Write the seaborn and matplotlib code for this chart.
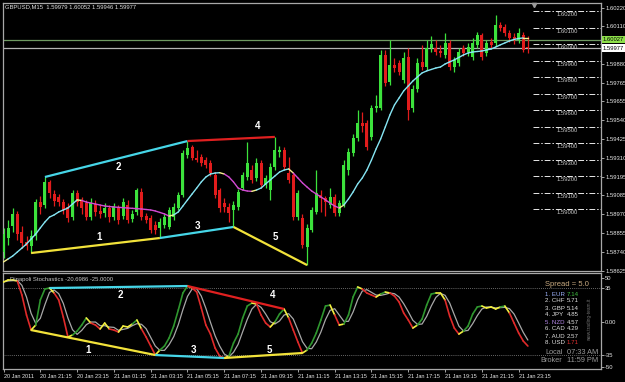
import numpy as np
import pandas as pd
import matplotlib
matplotlib.use("Agg")
import matplotlib.pyplot as plt
import matplotlib.transforms as mtransforms
from matplotlib.collections import LineCollection
import seaborn as sns

# ---------------- data (GBPUSD M15, 20 Jan 19:15 -> 21 Jan 23:45) ----------------
open_ = [1.58740, 1.58825, 1.58898, 1.58971, 1.58861, 1.58801, 1.58777, 1.58837, 1.59043, 1.59025,
         1.59165, 1.59092, 1.59074, 1.59043, 1.59013, 1.58952, 1.59098, 1.59049, 1.59037, 1.58952,
         1.59031, 1.58989, 1.58977, 1.59007, 1.58952, 1.59007, 1.58958, 1.59025, 1.58940, 1.58983,
         1.59104, 1.58958, 1.58946, 1.58904, 1.58886, 1.58904, 1.58892, 1.58952, 1.59007, 1.59086,
         1.59328, 1.59377, 1.59310, 1.59316, 1.59298, 1.59280, 1.59207, 1.59116, 1.59037, 1.59013,
         1.58995, 1.59013, 1.59128, 1.59195, 1.59237, 1.59189, 1.59280, 1.59146, 1.59116, 1.59256,
         1.59347, 1.59359, 1.59219, 1.59207, 1.58952, 1.58946, 1.58770, 1.58874, 1.58983, 1.59086,
         1.59068, 1.59025, 1.59074, 1.58977, 1.59025, 1.59237, 1.59341, 1.59432, 1.59523, 1.59523,
         1.59438, 1.59614, 1.59614, 1.59935, 1.59771, 1.59874, 1.59886, 1.59783, 1.59923, 1.59614,
         1.59729, 1.59893, 1.59862, 1.59977, 1.59977, 1.59959, 1.59935, 1.60008, 1.59862, 1.59886,
         1.59977, 1.59953, 1.59923, 1.59996, 1.60056, 1.59947, 1.60014, 1.60008, 1.60117, 1.60105,
         1.60068, 1.60044, 1.60026, 1.60056, 1.59979]
close = [1.58849, 1.58886, 1.58971, 1.58849, 1.58795, 1.58777, 1.58837, 1.59043, 1.59013, 1.59165,
         1.59098, 1.59049, 1.59043, 1.58995, 1.58946, 1.59098, 1.59043, 1.59007, 1.58952, 1.59037,
         1.58983, 1.58971, 1.59007, 1.58952, 1.59019, 1.58934, 1.59043, 1.58934, 1.58971, 1.59116,
         1.58952, 1.58934, 1.58874, 1.58874, 1.58922, 1.58952, 1.58995, 1.59013, 1.59086, 1.59341,
         1.59371, 1.59310, 1.59298, 1.59280, 1.59268, 1.59219, 1.59086, 1.59007, 1.59013, 1.58977,
         1.59025, 1.59104, 1.59207, 1.59280, 1.59177, 1.59280, 1.59146, 1.59189, 1.59256, 1.59359,
         1.59359, 1.59256, 1.59177, 1.58952, 1.59098, 1.58783, 1.58886, 1.58995, 1.59098, 1.59068,
         1.59043, 1.59074, 1.58977, 1.59037, 1.59268, 1.59347, 1.59432, 1.59523, 1.59504, 1.59377,
         1.59614, 1.59626, 1.59935, 1.59765, 1.59874, 1.59856, 1.59832, 1.59917, 1.59601, 1.59729,
         1.59886, 1.59862, 1.59977, 1.60002, 1.59953, 1.59947, 1.60008, 1.59862, 1.59905, 1.59953,
         1.59947, 1.59983, 1.60008, 1.60056, 1.59923, 1.60008, 1.59996, 1.60117, 1.60099, 1.60068,
         1.60038, 1.60032, 1.60068, 1.59965, 1.59977]
high = [1.58886, 1.58934, 1.59007, 1.58989, 1.58898, 1.58837, 1.58874, 1.59062, 1.59080, 1.59195,
        1.59177, 1.59116, 1.59092, 1.59062, 1.59037, 1.59116, 1.59116, 1.59074, 1.59056, 1.59068,
        1.59056, 1.59025, 1.59037, 1.59025, 1.59037, 1.59025, 1.59068, 1.59056, 1.58995, 1.59128,
        1.59128, 1.58977, 1.58965, 1.58928, 1.58946, 1.58971, 1.59013, 1.59037, 1.59104, 1.59359,
        1.59413, 1.59389, 1.59359, 1.59335, 1.59316, 1.59298, 1.59225, 1.59128, 1.59068, 1.59037,
        1.59049, 1.59122, 1.59225, 1.59407, 1.59268, 1.59310, 1.59298, 1.59207, 1.59280, 1.59438,
        1.59383, 1.59377, 1.59316, 1.59225, 1.59116, 1.58971, 1.58910, 1.59013, 1.59237, 1.59116,
        1.59080, 1.59128, 1.59092, 1.59056, 1.59298, 1.59371, 1.59456, 1.59601, 1.59589, 1.59541,
        1.59632, 1.59692, 1.59965, 1.59965, 1.60026, 1.59917, 1.59905, 1.59953, 1.59977, 1.59753,
        1.59917, 1.59996, 1.60026, 1.60050, 1.60026, 1.59996, 1.60068, 1.60026, 1.59923, 1.59977,
        1.59996, 1.60008, 1.60038, 1.60074, 1.60068, 1.60026, 1.60038, 1.60178, 1.60135, 1.60123,
        1.60087, 1.60068, 1.60099, 1.60074, 1.60052]
low = [1.58704, 1.58783, 1.58861, 1.58813, 1.58764, 1.58752, 1.58734, 1.58813, 1.58971, 1.59007,
       1.59068, 1.59019, 1.59019, 1.58971, 1.58922, 1.58934, 1.59019, 1.58971, 1.58934, 1.58934,
       1.58958, 1.58946, 1.58952, 1.58922, 1.58934, 1.58910, 1.58940, 1.58916, 1.58922, 1.58965,
       1.58934, 1.58916, 1.58855, 1.58849, 1.58825, 1.58886, 1.58880, 1.58934, 1.58995, 1.59074,
       1.59310, 1.59298, 1.59286, 1.59262, 1.59250, 1.59201, 1.59068, 1.58983, 1.58983, 1.58922,
       1.58892, 1.58995, 1.59116, 1.59177, 1.59159, 1.59171, 1.59128, 1.59128, 1.59056, 1.59237,
       1.59316, 1.59237, 1.59159, 1.58934, 1.58934, 1.58764, 1.58661, 1.58861, 1.58971, 1.58983,
       1.58958, 1.59007, 1.58958, 1.58958, 1.59013, 1.59207, 1.59322, 1.59413, 1.59468, 1.59359,
       1.59419, 1.59589, 1.59601, 1.59747, 1.59753, 1.59832, 1.59814, 1.59765, 1.59541, 1.59589,
       1.59711, 1.59844, 1.59844, 1.59953, 1.59935, 1.59923, 1.59917, 1.59844, 1.59832, 1.59868,
       1.59929, 1.59929, 1.59905, 1.59977, 1.59905, 1.59929, 1.59977, 1.59990, 1.60081, 1.60050,
       1.60014, 1.60002, 1.60008, 1.59953, 1.59946]
ma = [1.58680, 1.58698, 1.58716, 1.58740, 1.58764, 1.58789, 1.58819, 1.58849, 1.58886, 1.58922,
      1.58952, 1.58965, 1.58983, 1.58995, 1.59007, 1.59031, 1.59056, 1.59053, 1.59043, 1.59037,
      1.59031, 1.59025, 1.59019, 1.59016, 1.59013, 1.59011, 1.59009, 1.59007, 1.59005, 1.59003,
      1.59001, 1.58998, 1.58995, 1.58989, 1.58980, 1.58971, 1.58958, 1.58965, 1.58983, 1.59019,
      1.59056, 1.59092, 1.59128, 1.59165, 1.59195, 1.59213, 1.59219, 1.59221, 1.59213, 1.59195,
      1.59165, 1.59128, 1.59116, 1.59110, 1.59108, 1.59116, 1.59128, 1.59153, 1.59177, 1.59201,
      1.59225, 1.59237, 1.59244, 1.59219, 1.59189, 1.59159, 1.59134, 1.59110, 1.59092, 1.59074,
      1.59056, 1.59037, 1.59019, 1.59007, 1.59025, 1.59062, 1.59104, 1.59153, 1.59189, 1.59237,
      1.59298, 1.59365, 1.59426, 1.59498, 1.59571, 1.59632, 1.59674, 1.59717, 1.59747, 1.59777,
      1.59802, 1.59826, 1.59838, 1.59847, 1.59856, 1.59862, 1.59880, 1.59893, 1.59905, 1.59920,
      1.59935, 1.59947, 1.59953, 1.59956, 1.59959, 1.59965, 1.59971, 1.59983, 1.59996, 1.60008,
      1.60020, 1.60029, 1.60035, 1.60038, 1.60038]
stoch = [41.3, 43.4, 43.4, 42.3, 27.7, 6.8, -8.9, -3.7, 22.5, 34.0,
         35.0, 29.8, 22.5, 4.7, -16.2, -14.1, -10.0, -3.7, 3.7, -1.6,
         -3.7, -7.8, -1.6, -7.8, -8.9, -11.0, -4.7, -5.7, -2.6, 1.6,
         -7.8, -16.2, -25.6, -35.0, -29.8, -25.6, -17.2, -4.7, 12.0, 29.8,
         37.1, 35.0, 30.8, 14.1, -3.7, -13.1, -27.7, -36.1, -38.1, -36.1,
         -22.5, -13.1, 3.7, 16.2, 19.3, 18.3, 6.8, -1.6, -5.7, -0.5,
         7.8, 13.1, 3.7, -8.9, -21.4, -32.9, -29.8, -22.5, -12.0, 1.6,
         16.2, 17.2, 6.8, -3.7, -2.6, 6.8, 25.6, 36.1, 34.0, 29.8,
         27.7, 25.6, 28.7, 30.8, 29.8, 26.6, 20.4, 8.9, 1.6, -6.8,
         -3.7, 2.6, 17.2, 28.7, 29.8, 29.8, 22.5, 5.7, -6.8, -13.1,
         -10.0, -4.7, 7.8, 15.2, 16.2, 14.1, 15.2, 13.1, 15.2, 16.2,
         8.9, -1.6, -12.0, -20.4, -25.6]

price_ticks = [1.60220, 1.60110, 1.59880, 1.59765, 1.59655, 1.59540, 1.59425,
               1.59310, 1.59195, 1.59085, 1.58970, 1.58855, 1.58740, 1.58625]
fib_levels = [1.60200, 1.60100, 1.60000, 1.59900, 1.59800, 1.59700, 1.59600,
              1.59500, 1.59400, 1.59300, 1.59200, 1.59100, 1.59000]
ask_price, bid_price = 1.60027, 1.59977
time_labels = ["20 Jan 2011", "20 Jan 21:15", "20 Jan 23:15", "21 Jan 01:15", "21 Jan 03:15",
               "21 Jan 05:15", "21 Jan 07:15", "21 Jan 09:15", "21 Jan 11:15", "21 Jan 13:15",
               "21 Jan 15:15", "21 Jan 17:15", "21 Jan 19:15", "21 Jan 21:15", "21 Jan 23:15"]
osc_ticks = [50, 35, 0, -35, -50]
osc_tick_labels = ["50", "35", "0.00", "-35", "-50"]
currencies = ["1. EUR", "2. CHF", "3. GBP", "4. JPY", "5. NZD", "6. CAD", "7. AUD", "8. USD"]
strength = [7.14, 5.71, 5.14, 4.85, 4.57, 4.29, 2.57, 1.71]
# swing points (candle index) joined by the numbered trend lines
price_lines = [("low", 6, 34, "#f2e23a"), ("high", 9, 40, "#46d6e8"), ("low", 34, 50, "#46d6e8"),
               ("high", 40, 59, "#e02020"), ("low", 50, 66, "#f2e23a")]
osc_lines = [(6, 33, "#f2e23a"), (10, 40, "#46d6e8"), (33, 48, "#46d6e8"),
             (40, 61, "#e02020"), (48, 65, "#f2e23a")]

# ---------------- style ----------------
sns.set_theme(style="dark", rc={"axes.facecolor": "black", "figure.facecolor": "black",
                                "axes.edgecolor": "#a8a8a8", "axes.grid": False,
                                "text.color": "white"})
plt.rcParams["font.family"] = ["Liberation Sans", "DejaVu Sans"]

W, H = 625, 382
fig = plt.figure(figsize=(W / 100, H / 100), dpi=100)
fig.patch.set_facecolor("black")


def rect(x0, y0, x1, y1):
    return [x0 / W, 1 - y1 / H, (x1 - x0) / W, (y1 - y0) / H]


def ftext(x, y, s, **kw):
    fig.text(x / W, 1 - y / H, s, **kw)


ax = fig.add_axes(rect(3, 3, 601, 271))
ax2 = fig.add_axes(rect(3, 273, 601, 369))
for a in (ax, ax2):
    a.set_facecolor("black")
    for sp in a.spines.values():
        sp.set_color("#a8a8a8")
        sp.set_linewidth(0.9)
    a.set_xlim(-0.11, 129.9)

n = len(close)
idx = np.arange(n)
df = pd.DataFrame({"i": idx, "open": open_, "high": high, "low": low, "close": close,
                   "ma": ma, "stoch": stoch})
df["signal"] = df["stoch"].rolling(3, min_periods=1).mean()

GREEN, RED = "#3ce23c", "#e21c1c"

# ---------------- main panel ----------------
ax.set_ylim(1.58625, 1.60250)
ax.axhline(ask_price, color="#6f9a62", lw=0.9, zorder=1)
ax.axhline(bid_price, color="#b4b4b4", lw=0.9, zorder=1)

for lv in fib_levels:
    ax.plot([115.1, 129.9], [lv, lv], ls=(0, (6, 2, 1.5, 2)), color="#e8e8e8", lw=0.7, zorder=1)
    ax.text(122.5, lv - 0.00021, f"{lv:.5f}", ha="center", va="center", fontsize=4.2,
            color="#c8c8c8", zorder=2)

up = df["close"] >= df["open"]
cols = np.where(up, GREEN, RED)
ax.vlines(df["i"], df["low"], df["high"], colors=cols, lw=0.9, zorder=3)
body_lo = np.minimum(df["open"], df["close"])
body_h = np.maximum((df["close"] - df["open"]).abs(), 0.00004)
ax.bar(df["i"], body_h, bottom=body_lo, width=0.64, color=cols, lw=0, zorder=4)


def seg_colors(vals, upc, downc, turnc, eps):
    d = np.diff(vals)
    dirs = np.where(d > eps, 1, np.where(d < -eps, -1, 0))
    out = []
    for k, s in enumerate(dirs):
        if s == 0 or k == 0 or s != dirs[k - 1]:
            out.append(turnc)
        else:
            out.append(upc if s > 0 else downc)
    return out


def colored_line(a, x, y, upc, downc, turnc, eps, lw):
    pts = np.column_stack([x, y])
    segs = np.stack([pts[:-1], pts[1:]], axis=1)
    lc = LineCollection(segs, colors=seg_colors(np.asarray(y), upc, downc, turnc, eps),
                        linewidths=lw, zorder=6, capstyle="round")
    a.add_collection(lc)


colored_line(ax, df["i"].values, df["ma"].values, "#86e6f4", "#d24ad2", "#f4f08a", 1e-6, 1.0)

for kind, i0, i1, c in price_lines:
    ax.plot([i0, i1], [df[kind][i0], df[kind][i1]], color=c, lw=1.6, zorder=7,
            solid_capstyle="butt")

for s, x, y in [("1", 20.8, 1.58831), ("2", 25.0, 1.59256), ("3", 42.1, 1.58898),
                ("4", 55.3, 1.59504), ("5", 59.0, 1.58831)]:
    ax.text(x, y, s, color="white", fontsize=7, fontweight="bold", ha="center", va="center",
            zorder=8)

ax.plot([115.3], [1.60240], marker="v", ms=3, color="#9a9a9a", clip_on=False, zorder=9)

ax.yaxis.tick_right()
ax.set_yticks(price_ticks)
ax.set_yticklabels([f"{v:.5f}" for v in price_ticks])
ax.tick_params(axis="y", right=True, left=False, length=2, width=0.6, color="#c0c0c0",
               labelsize=4.2, labelcolor="#e8e8e8", pad=1)
ax.tick_params(axis="x", bottom=False, labelbottom=False)
ax.set_xlabel("")
ax.set_ylabel("")

blend = mtransforms.blended_transform_factory(ax.transAxes, ax.transData)
ax.text(1.003, ask_price, f"{ask_price:.5f}", transform=blend, fontsize=4.2, color="black",
        va="center", ha="left", zorder=10,
        bbox=dict(boxstyle="square,pad=0.18", fc="#8ee04a", ec="none"))
ax.text(1.003, bid_price, f"{bid_price:.5f}", transform=blend, fontsize=4.2, color="black",
        va="center", ha="left", zorder=10,
        bbox=dict(boxstyle="square,pad=0.18", fc="white", ec="none"))

ftext(5, 7, "GBPUSD,M15  1.59979 1.60052 1.59946 1.59977", fontsize=4.2, color="#e0e0e0",
      va="center", ha="left")

# ---------------- oscillator panel ----------------
ax2.set_ylim(-49.6, 50.7)
for lv in (35, -35):
    ax2.axhline(lv, color="#8a8a8a", ls=(0, (1, 1.5)), lw=0.6, zorder=1)

sns.lineplot(data=df, x="i", y="signal", ax=ax2, color="#a8a8a8", lw=0.9, zorder=4)
colored_line(ax2, df["i"].values, df["stoch"].values, "#2f962f", "#e02a2a", "#f2ee40", 0.05, 1.2)

for i0, i1, c in osc_lines:
    ax2.plot([i0, i1], [df["stoch"][i0], df["stoch"][i1]], color=c, lw=1.6, zorder=7,
             solid_capstyle="butt")
for s, x, y in [("1", 18.4, -29.8), ("2", 25.3, 27.7), ("3", 41.2, -29.8),
                ("4", 58.4, 27.7), ("5", 57.9, -29.8)]:
    ax2.text(x, y, s, color="white", fontsize=7, fontweight="bold", ha="center", va="center",
             zorder=8)

ax2.yaxis.tick_right()
ax2.set_yticks([45.5, 35, 0, -35, -47.5])
ax2.set_yticklabels(osc_tick_labels)
ax2.tick_params(axis="y", right=True, left=False, length=2, width=0.6, color="#c0c0c0",
                labelsize=4.2, labelcolor="#e8e8e8", pad=1)
ax2.set_xticks(np.arange(0, 8 * len(time_labels), 8))
ax2.set_xticklabels(time_labels, ha="left")
ax2.tick_params(axis="x", bottom=True, length=2, width=0.6, color="#c0c0c0", labelsize=4.0,
                labelcolor="#e8e8e8", pad=1.5)
ax2.set_xlabel("")
ax2.set_ylabel("")

ftext(10, 279, "Dinapoli Stochastics -20.6986 -25.0000", fontsize=4.2, color="#c8c8c8",
      va="center", ha="left")

# currency strength panel
ftext(545, 285, "Spread = 5.0", fontsize=5.5, color="#c8aa80", va="center", ha="left")
label_cols = ["#9fb4ff", "#e0e0e0", "#e0e0e0", "#e0e0e0", "#b488e8", "#e0e0e0", "#e0e0e0", "#e0e0e0"]
value_cols = ["#40c040", "#e0e0e0", "#e0e0e0", "#e0e0e0", "#e0e0e0", "#e0e0e0", "#e0e0e0", "#e03030"]
for k, (c, v) in enumerate(zip(currencies, strength)):
    y = 294 + 7 * k
    ftext(545, y, c, fontsize=4.4, color=label_cols[k], va="center", ha="left")
    ftext(567, y, f"{v:.2f}", fontsize=4.4, color=value_cols[k], va="center", ha="left")
ftext(590, 320, "www.trading-team.it", fontsize=3.4, color="#707070", rotation=90,
      va="center", ha="center")
ftext(545, 353, "Local", fontsize=5.3, color="#9a9a9a", va="center", ha="left")
ftext(567, 353, "07:33 AM", fontsize=5.3, color="#9a9a9a", va="center", ha="left")
ftext(540, 361, "Broker", fontsize=5.3, color="#9a9a9a", va="center", ha="left")
ftext(567, 361, "11:59 PM", fontsize=5.3, color="#9a9a9a", va="center", ha="left")

fig.savefig("out.png", dpi=100, facecolor="black")
